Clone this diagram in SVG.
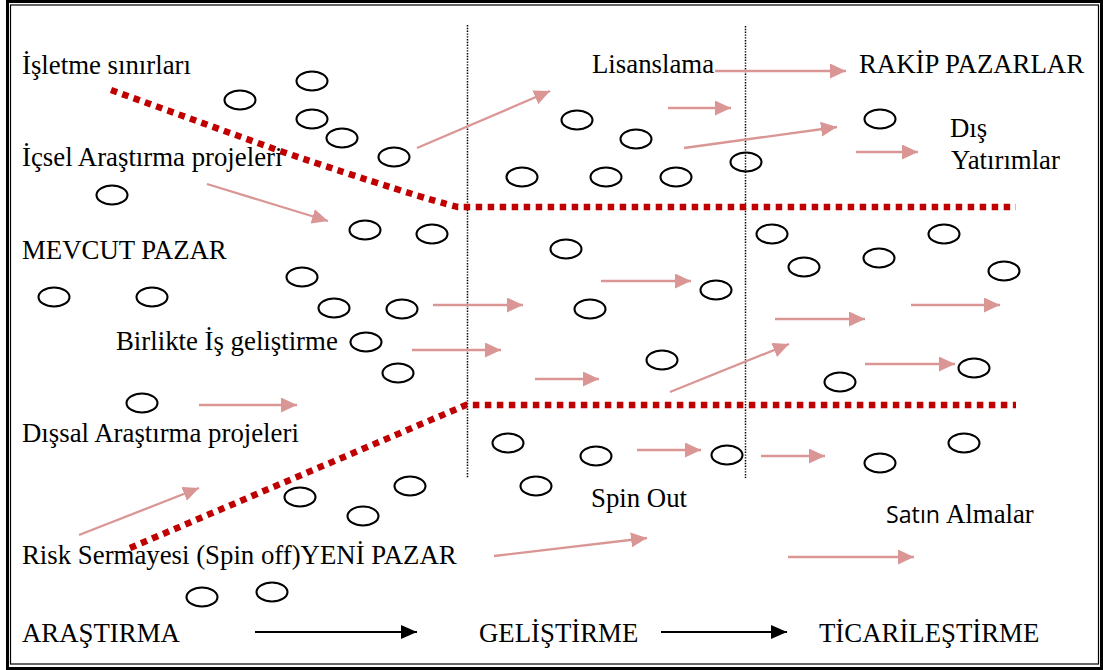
<svg xmlns="http://www.w3.org/2000/svg" width="1103" height="670" viewBox="0 0 1103 670">
  <defs>
    <marker id="headPink" markerUnits="userSpaceOnUse" markerWidth="17" markerHeight="15" refX="16" refY="7.5" orient="auto">
      <path d="M0,0 L16,7.5 L0,15 Z" fill="#D99694"/>
    </marker>
    <marker id="headBlack" markerUnits="userSpaceOnUse" markerWidth="17" markerHeight="14" refX="16" refY="7" orient="auto">
      <path d="M0,0 L16,7 L0,14 Z" fill="#000"/>
    </marker>
  </defs>
  <style>
    .lbl { font-family: "Liberation Serif", "Times New Roman", serif; font-size: 26.8px; fill: #000; }
    .sans { font-family: "Open Sans", "Noto Sans", sans-serif; }
    .blob { fill: none; stroke: #000; stroke-width: 2.1; }
    .flow { stroke: #D99694; stroke-width: 2.3; fill: none; marker-end: url(#headPink); }
    .phase { stroke: #000; stroke-width: 2; fill: none; marker-end: url(#headBlack); }
    .bound { stroke: #C00000; stroke-width: 6.5; fill: none; stroke-dasharray: 6.5 5.5; }
    .stage { stroke: #000; stroke-width: 1.5; stroke-dasharray: 1.4 1.4; fill: none; }
  </style>

  <rect width="1103" height="670" fill="#fff"/>

  <!-- double frame -->
  <g id="frame" fill="none" stroke="#000">
    <rect x="7.5" y="1.5" width="1094" height="667" stroke-width="3"/>
    <rect x="10.5" y="5" width="1088" height="659" stroke-width="1.2"/>
  </g>

  <!-- stage separators -->
  <g id="stages">
    <line class="stage" x1="467.5" y1="25" x2="467.5" y2="478"/>
    <line class="stage" x1="745.5" y1="26" x2="745.5" y2="478"/>
  </g>

  <!-- company boundary (funnel) -->
  <g id="boundary">
    <path class="bound" d="M111,90 L280,151 Q420,198 458,207 L1016,207"/>
    <path class="bound" d="M130,548 L466,405 L1016,405"/>
  </g>

  <!-- project bubbles -->
  <g id="projects">
    <ellipse class="blob" cx="312" cy="81" rx="15.5" ry="9.5"/>
    <ellipse class="blob" cx="240" cy="100" rx="15.5" ry="9.5"/>
    <ellipse class="blob" cx="312" cy="119" rx="15.5" ry="9.5"/>
    <ellipse class="blob" cx="342" cy="138" rx="15.5" ry="9.5"/>
    <ellipse class="blob" cx="394" cy="157" rx="15.5" ry="9.5"/>
    <ellipse class="blob" cx="112" cy="195" rx="15.5" ry="9.5"/>
    <ellipse class="blob" cx="365" cy="230" rx="15.5" ry="9.5"/>
    <ellipse class="blob" cx="432" cy="234" rx="15.5" ry="9.5"/>
    <ellipse class="blob" cx="302" cy="277" rx="15.5" ry="9.5"/>
    <ellipse class="blob" cx="54" cy="297" rx="15.5" ry="9.5"/>
    <ellipse class="blob" cx="152" cy="297" rx="15.5" ry="9.5"/>
    <ellipse class="blob" cx="334" cy="308" rx="15.5" ry="9.5"/>
    <ellipse class="blob" cx="402" cy="309" rx="15.5" ry="9.5"/>
    <ellipse class="blob" cx="366" cy="342" rx="15.5" ry="9.5"/>
    <ellipse class="blob" cx="398" cy="373" rx="15.5" ry="9.5"/>
    <ellipse class="blob" cx="142" cy="403" rx="15.5" ry="9.5"/>
    <ellipse class="blob" cx="300" cy="497" rx="15.5" ry="9.5"/>
    <ellipse class="blob" cx="410" cy="486" rx="15.5" ry="9.5"/>
    <ellipse class="blob" cx="363" cy="516" rx="15.5" ry="9.5"/>
    <ellipse class="blob" cx="202" cy="597" rx="15.5" ry="9.5"/>
    <ellipse class="blob" cx="272" cy="592" rx="15.5" ry="9.5"/>
    <ellipse class="blob" cx="577" cy="120" rx="15.5" ry="9.5"/>
    <ellipse class="blob" cx="636" cy="139" rx="15.5" ry="9.5"/>
    <ellipse class="blob" cx="522" cy="177" rx="15.5" ry="9.5"/>
    <ellipse class="blob" cx="606" cy="177" rx="15.5" ry="9.5"/>
    <ellipse class="blob" cx="676" cy="177" rx="15.5" ry="9.5"/>
    <ellipse class="blob" cx="746" cy="162" rx="15.5" ry="9.5"/>
    <ellipse class="blob" cx="880" cy="119" rx="15.5" ry="9.5"/>
    <ellipse class="blob" cx="566" cy="249" rx="15.5" ry="9.5"/>
    <ellipse class="blob" cx="716" cy="290" rx="15.5" ry="9.5"/>
    <ellipse class="blob" cx="590" cy="309" rx="15.5" ry="9.5"/>
    <ellipse class="blob" cx="772" cy="234" rx="15.5" ry="9.5"/>
    <ellipse class="blob" cx="804" cy="267" rx="15.5" ry="9.5"/>
    <ellipse class="blob" cx="879" cy="258" rx="15.5" ry="9.5"/>
    <ellipse class="blob" cx="944" cy="234" rx="15.5" ry="9.5"/>
    <ellipse class="blob" cx="1004" cy="271" rx="15.5" ry="9.5"/>
    <ellipse class="blob" cx="662" cy="360" rx="15.5" ry="9.5"/>
    <ellipse class="blob" cx="840" cy="382" rx="15.5" ry="9.5"/>
    <ellipse class="blob" cx="974" cy="368" rx="15.5" ry="9.5"/>
    <ellipse class="blob" cx="508" cy="443" rx="15.5" ry="9.5"/>
    <ellipse class="blob" cx="536" cy="486" rx="15.5" ry="9.5"/>
    <ellipse class="blob" cx="596" cy="456" rx="15.5" ry="9.5"/>
    <ellipse class="blob" cx="727" cy="455" rx="15.5" ry="9.5"/>
    <ellipse class="blob" cx="880" cy="463" rx="15.5" ry="9.5"/>
    <ellipse class="blob" cx="964" cy="443" rx="15.5" ry="9.5"/>
  </g>

  <!-- flows -->
  <g id="connectors">
    <line class="flow" x1="417" y1="148" x2="550" y2="91"/>
    <line class="flow" x1="715" y1="71" x2="846" y2="71"/>
    <line class="flow" x1="668" y1="108" x2="731" y2="108"/>
    <line class="flow" x1="684" y1="148" x2="837" y2="127"/>
    <line class="flow" x1="856" y1="152" x2="918" y2="152"/>
    <line class="flow" x1="207" y1="184" x2="328" y2="221"/>
    <line class="flow" x1="433" y1="305" x2="523" y2="305"/>
    <line class="flow" x1="412" y1="350" x2="501" y2="350"/>
    <line class="flow" x1="601" y1="281" x2="691" y2="281"/>
    <line class="flow" x1="535" y1="379" x2="599" y2="379"/>
    <line class="flow" x1="670" y1="392" x2="789" y2="344"/>
    <line class="flow" x1="775" y1="319" x2="865" y2="319"/>
    <line class="flow" x1="911" y1="305" x2="1000" y2="305"/>
    <line class="flow" x1="865" y1="364" x2="955" y2="364"/>
    <line class="flow" x1="199" y1="405" x2="297" y2="405"/>
    <line class="flow" x1="79" y1="535" x2="199" y2="488"/>
    <line class="flow" x1="637" y1="450" x2="701" y2="450"/>
    <line class="flow" x1="761" y1="456" x2="825" y2="456"/>
    <line class="flow" x1="494" y1="556" x2="647" y2="538"/>
    <line class="flow" x1="788" y1="557" x2="914" y2="557"/>
    <line class="phase" x1="255" y1="632" x2="417" y2="632"/>
    <line class="phase" x1="661" y1="632" x2="787" y2="632"/>
  </g>

  <!-- labels -->
  <g id="labels">
    <text class="lbl" x="22" y="74">İşletme sınırları</text>
    <text class="lbl" x="22" y="166">İçsel Araştırma projeleri</text>
    <text class="lbl" x="22" y="259">MEVCUT PAZAR</text>
    <text class="lbl" x="116" y="350">Birlikte İş geliştirme</text>
    <text class="lbl" x="22" y="442">Dışsal Araştırma projeleri</text>
    <text class="lbl" x="22" y="564">Risk Sermayesi (Spin off)YENİ PAZAR</text>
    <text class="lbl" x="592" y="73">Lisanslama</text>
    <text class="lbl" x="859" y="73">RAKİP PAZARLAR</text>
    <text class="lbl" x="950" y="137">Dış</text>
    <text class="lbl" x="951" y="169">Yatırımlar</text>
    <text class="lbl" x="591" y="507">Spin Out</text>
    <text class="lbl" x="886" y="523"><tspan class="sans" font-size="23" textLength="54" lengthAdjust="spacingAndGlyphs">Satın</tspan><tspan x="946">Almalar</tspan></text>
    <text class="lbl" x="22" y="642">ARAŞTIRMA</text>
    <text class="lbl" x="479" y="642">GELİŞTİRME</text>
    <text class="lbl" x="819" y="642">TİCARİLEŞTİRME</text>
  </g>
</svg>
